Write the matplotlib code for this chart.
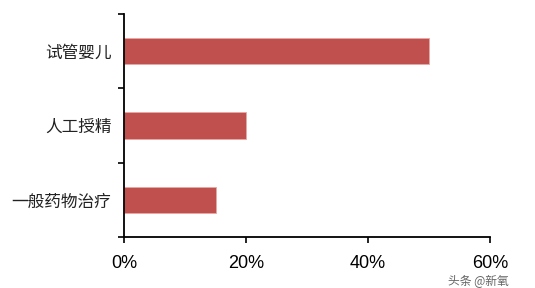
import matplotlib.pyplot as plt

categories = ['试管婴儿', '人工授精', '一般药物治疗']
values = [50, 20, 15]
xticks = [0, 20, 40, 60]
xtick_labels = ['0%', '20%', '40%', '60%']

plt.rcParams['font.family'] = ['Noto Sans CJK SC', 'DejaVu Sans']

fig = plt.figure(figsize=(5.35, 2.88), dpi=100)
ax = fig.add_axes([124 / 535, 1 - 237 / 288, 366 / 535, 223 / 288])

pos = list(range(len(categories)))
ax.barh(pos, values, height=0.35, color='#C0504D', edgecolor='#E8A8A6', linewidth=0.6)

ax.set_xlim(0, 60)
ax.set_ylim(len(categories) - 0.5, -0.5)

# category boundaries get the tick marks, centers get the labels
ax.set_yticks([p - 0.5 for p in pos] + [len(categories) - 0.5])
ax.set_yticklabels([])
ax.set_yticks(pos, minor=True)
ax.set_yticklabels(categories, minor=True, fontsize=12, color='#222222')
ax.tick_params(axis='y', which='minor', length=0, pad=9)
ax.tick_params(axis='y', which='major', length=4, width=1.2, direction='out')

ax.set_xticks(xticks)
ax.set_xticklabels(xtick_labels, fontsize=13, family='Liberation Sans')
ax.tick_params(axis='x', length=4, width=1.2, direction='out', pad=9)

for s in ['top', 'right']:
    ax.spines[s].set_visible(False)
for s in ['left', 'bottom']:
    ax.spines[s].set_linewidth(1.3)

fig.text(0.95, 0.0, '头条 @新氧', fontsize=8.5, color='#666666', ha='right', va='bottom')

fig.savefig('out.png', dpi=100)
